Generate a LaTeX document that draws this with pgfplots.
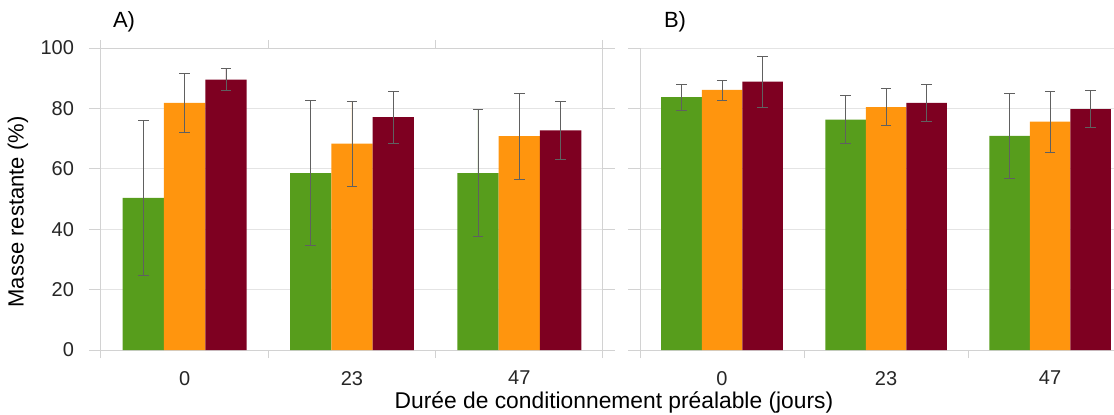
\documentclass[border=0pt]{standalone}
\usepackage{pgfplots}
\pgfplotsset{compat=1.18}
\usepackage{fontspec}
\setmainfont{Liberation Sans}
\definecolor{cgreen}{HTML}{579D1C}
\definecolor{corange}{HTML}{FF950E}
\definecolor{cred}{HTML}{7E0021}
\definecolor{gridc}{HTML}{E4E4E4}
\definecolor{axc}{HTML}{D2D2D2}
\definecolor{errc}{HTML}{606060}

\pgfplotsset{
  panel/.style={
    scale only axis,
    height=151pt,
    ymin=0, ymax=100, ytick={0,20,...,100},
    xmin=-0.5,
    xtick={0,1,2}, xticklabels={0,23,47},
    minor xtick={-0.5,0.5,1.5,2.5},
    major x tick style={draw=none},
    minor x tick style={axc, line width=0.5pt},
    minor tick length=4pt,
    major tick length=6pt,
    y tick style={axc, line width=0.5pt},
    tick align=outside,
    ymajorgrids,
    major grid style={gridc, line width=0.5pt},
    axis line style={axc, line width=0.5pt},
    tick label style={font=\fontsize{10}{12}\selectfont, text=black!85},
    /pgf/number format/assume math mode=true,
    xticklabel style={yshift=-1pt},
    yticklabel style={xshift=-4pt},
    clip=false,
  },
  barA/.style={ybar, bar width=0.247, bar shift=0pt, draw=none,
    error bars/.cd, y dir=both, y explicit,
    error bar style={draw=errc, line width=0.35pt},
    error mark options={rotate=90, mark size=2.6pt, draw=errc, line width=0.35pt}},
}

\begin{document}
\begin{tikzpicture}
\useasboundingbox (0,0) rectangle (557pt,207pt);

% Panel A
\begin{axis}[panel, width=251pt, xmax=2.5, at={(50.5pt,32pt)}, anchor=south west]
\addplot[fill=cgreen, barA] coordinates {
  (-0.247,50.4) +- (0,25.6)
  (0.753,58.6) +- (0,24.0)
  (1.753,58.6) +- (0,21.0)
};
\addplot[fill=corange, barA] coordinates {
  (0,81.8) +- (0,9.8)
  (1,68.3) +- (0,14.0)
  (2,70.8) +- (0,14.2)
};
\addplot[fill=cred, barA] coordinates {
  (0.247,89.5) +- (0,3.6)
  (1.247,77.1) +- (0,8.6)
  (2.247,72.7) +- (0,9.5)
};
\end{axis}

% Panel B
\begin{axis}[panel, width=237pt, xmax=2.39, at={(320pt,32pt)}, anchor=south west,
  yticklabels={},
  axis x line*=bottom, axis y line*=left,
  x axis line style={-}, y axis line style={-},
  every non boxed x axis/.append style={x axis line style={-}},
  every non boxed y axis/.append style={y axis line style={-}},
  tick align=outside, xtick align=outside, ytick align=outside]
\addplot[fill=cgreen, barA] coordinates {
  (-0.247,83.7) +- (0,4.2)
  (0.753,76.3) +- (0,8.0)
  (1.753,70.9) +- (0,14.2)
};
\addplot[fill=corange, barA] coordinates {
  (0,86.1) +- (0,3.3)
  (1,80.4) +- (0,6.1)
  (2,75.6) +- (0,10.0)
};
\addplot[fill=cred, barA] coordinates {
  (0.247,88.9) +- (0,8.4)
  (1.247,81.8) +- (0,6.0)
  (2.247,79.8) +- (0,6.2)
};
\end{axis}

\node[font=\fontsize{11}{13}\selectfont] at (62pt,196pt) {A)};
\node[font=\fontsize{11}{13}\selectfont] at (337.5pt,196pt) {B)};
\node[rotate=90, font=\fontsize{11}{13}\selectfont] at (9pt,101pt) {Masse restante (\%)};
\node[anchor=base, font=\fontsize{11.4}{13}\selectfont] at (307pt,2.8pt) {Durée de conditionnement préalable (jours)};
\end{tikzpicture}
\end{document}
